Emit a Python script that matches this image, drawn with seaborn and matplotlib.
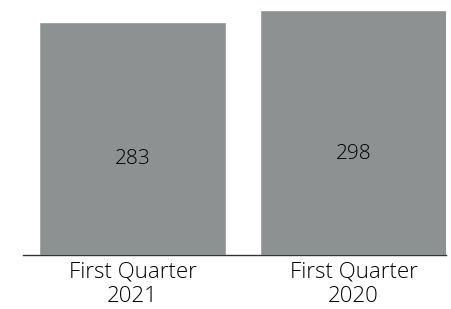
import matplotlib
matplotlib.use("Agg")
import matplotlib.pyplot as plt
import seaborn as sns

categories = ["First Quarter\n2021", "First Quarter\n2020"]
values = [283, 298]

sns.set_style("white")
plt.rcParams['font.family'] = ['Open Sans', 'DejaVu Sans']

fig = plt.figure(figsize=(4.52, 3.09), dpi=100)
ax = fig.add_axes([23 / 452, 1 - 254.5 / 309, (446 - 23) / 452, 254.5 / 309])

sns.barplot(x=categories, y=values, color="#8e9191", saturation=1, width=0.846, ax=ax)

for i, v in enumerate(values):
    ax.text(i, v * 0.41, str(v), ha="center", va="center", fontsize=15,
            fontweight="light", color="#000000")

ax.set_ylim(0, 309.6)
ax.set_xlim(-0.4955, 1.4186)
ax.set_yticks([])
for s in ["top", "right", "left"]:
    ax.spines[s].set_visible(False)
ax.spines["bottom"].set_color("#333333")
ax.spines["bottom"].set_linewidth(1)
ax.tick_params(axis="x", length=0, labelsize=16, pad=5, colors="#000000")
for t in ax.get_xticklabels():
    t.set_linespacing(1.25)
    t.set_fontweight("light")

fig.savefig("out.png", dpi=100)
